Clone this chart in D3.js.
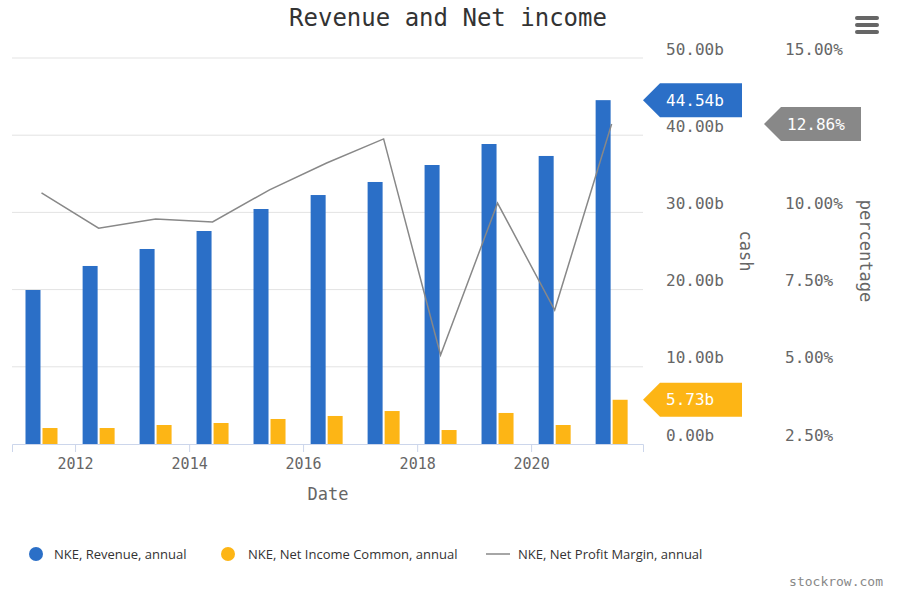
<!DOCTYPE html>
<html><head><meta charset="utf-8">
<script src="https://cdn.jsdelivr.net/npm/d3@7"></script>
<style>body{margin:0;background:#fff}svg{display:block}</style>
</head><body>
<svg id="c" width="906" height="594"></svg>
<script>
const years = [2011,2012,2013,2014,2015,2016,2017,2018,2019,2020,2021];
const revenue = [19.95,23.06,25.26,27.59,30.44,32.25,33.94,36.14,38.86,37.31,44.54];
const netIncome = [2.07,2.07,2.46,2.72,3.24,3.63,4.27,1.81,4.02,2.46,5.73];
const margin = [10.63,9.49,9.79,9.69,10.73,11.60,12.38,5.38,10.30,6.84,12.86];
const cashTicks = [0,10,20,30,40,50];
const pctTicks = [2.5,5,7.5,10,12.5,15];
const yearTicks = [2012,2014,2016,2018,2020];

const mono = "'DejaVu Sans Mono', monospace";
const svg = d3.select("#c");
const fy = y => new Date(y,4,31);
const x = d3.scaleTime().domain([new Date(2010,10,23), new Date(2021,11,18)]).range([12,643]);
const yC = d3.scaleLinear().domain([0,50]).range([444,58]);
const yP = d3.scaleLinear().domain([2.5,15]).range([444,58]);
const blue="#2b6fc7", yellow="#fdb515", gray="#888";

svg.append("g").selectAll("line").data(cashTicks.slice(1)).join("line")
 .attr("x1",12).attr("x2",643).attr("y1",d=>yC(d)).attr("y2",d=>yC(d)).attr("stroke","#e3e3e3");

svg.append("g").selectAll("rect").data(years).join("rect")
 .attr("x",(d)=>x(fy(d))-16).attr("width",15)
 .attr("y",(d,i)=>yC(revenue[i])).attr("height",(d,i)=>yC(0)-yC(revenue[i])).attr("fill",blue);
svg.append("g").selectAll("rect").data(years).join("rect")
 .attr("x",(d)=>x(fy(d))+1).attr("width",15)
 .attr("y",(d,i)=>yC(netIncome[i])).attr("height",(d,i)=>yC(0)-yC(netIncome[i])).attr("fill",yellow);

svg.append("path").datum(years).attr("fill","none").attr("stroke",gray).attr("stroke-width",1.5)
 .attr("d",d3.line().x(d=>x(fy(d))).y((d,i)=>yP(margin[i])));

const xa = svg.append("g").attr("transform","translate(0,444)")
 .call(d3.axisBottom(x).tickValues(yearTicks.map(y=>new Date(y,0,1))).tickFormat(d3.timeFormat("%Y")).tickSize(8).tickPadding(6));
xa.select(".domain").attr("stroke","#ccd6eb");
xa.selectAll(".tick line").attr("stroke","#ccd6eb");
xa.selectAll("text").attr("font-family",mono).attr("font-size",15).attr("fill","#666");

const la = svg.append("g").attr("transform","translate(666,-9)")
 .call(d3.axisRight(yC).tickValues(cashTicks).tickFormat(d=>d.toFixed(2)+"b").tickSize(0).tickPadding(0));
la.select(".domain").remove();
la.selectAll("text").attr("font-family",mono).attr("font-size",16).attr("fill","#666").attr("dy","0.32em");
const ra = svg.append("g").attr("transform","translate(785,-9)")
 .call(d3.axisRight(yP).tickValues(pctTicks).tickFormat(d=>d.toFixed(2)+"%").tickSize(0).tickPadding(0));
ra.select(".domain").remove();
ra.selectAll("text").attr("font-family",mono).attr("font-size",16).attr("fill","#666").attr("dy","0.32em");

svg.append("text").attr("transform","translate(740,251) rotate(90)").attr("text-anchor","middle")
 .attr("font-family",mono).attr("font-size",17).attr("fill","#666").text("cash");
svg.append("text").attr("transform","translate(860,251) rotate(90)").attr("text-anchor","middle")
 .attr("font-family",mono).attr("font-size",17).attr("fill","#666").text("percentage");
svg.append("text").attr("x",328).attr("y",500).attr("text-anchor","middle")
 .attr("font-family",mono).attr("font-size",17).attr("fill","#666").text("Date");

svg.append("text").attr("x",448).attr("y",26).attr("text-anchor","middle")
 .attr("font-family",mono).attr("font-size",24).attr("fill","#333").text("Revenue and Net income");

function badge(x0,w,yc,col,txt){
  const g=svg.append("g");
  g.append("path").attr("d",`M${x0},${yc} L${x0+17},${yc-17} L${x0+w},${yc-17} L${x0+w},${yc+17} L${x0+17},${yc+17} Z`).attr("fill",col);
  g.append("text").attr("x",x0+23).attr("y",yc).attr("dy","0.35em").attr("font-family",mono)
   .attr("font-size",16).attr("fill","#fff").text(txt);
}
badge(643,99,yC(revenue[10]),blue,revenue[10].toFixed(2)+"b");
badge(764,97,yP(margin[10]),gray,margin[10].toFixed(2)+"%");
badge(643,99,yC(netIncome[10]),yellow,netIncome[10].toFixed(2)+"b");

[18,25,32].forEach(yy=>svg.append("rect").attr("x",855).attr("y",yy-2).attr("width",24).attr("height",4).attr("rx",2).attr("fill","#666"));

const lf="'Open Sans', sans-serif";
const leg=svg.append("g").attr("font-family",lf).attr("font-size",13).attr("fill","#333");
leg.append("circle").attr("cx",36).attr("cy",554).attr("r",7).attr("fill",blue);
leg.append("text").attr("x",54).attr("y",559).text("NKE, Revenue, annual");
leg.append("circle").attr("cx",228).attr("cy",554).attr("r",7).attr("fill",yellow);
leg.append("text").attr("x",248).attr("y",559).text("NKE, Net Income Common, annual");
leg.append("line").attr("x1",486).attr("x2",510).attr("y1",554).attr("y2",554).attr("stroke",gray).attr("stroke-width",1.5);
leg.append("text").attr("x",518).attr("y",559).text("NKE, Net Profit Margin, annual");

svg.append("text").attr("x",883).attr("y",586).attr("text-anchor","end").attr("font-family",mono)
 .attr("font-size",13).attr("fill","#888").text("stockrow.com");
</script>
</body></html>
